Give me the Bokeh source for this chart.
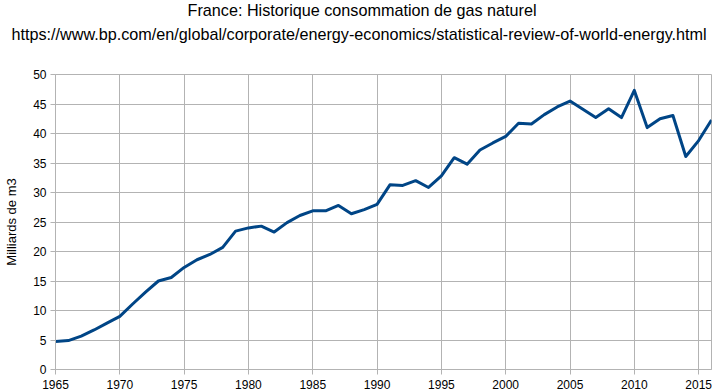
from bokeh.plotting import figure
from bokeh.models import Title, Range1d, FixedTicker
from bokeh.embed import file_html
from bokeh.resources import INLINE

years = list(range(1965, 2017))
consumption = [4.75, 4.9, 5.65, 6.7, 7.85, 9.0, 11.1, 13.1, 15.0, 15.6,
               17.3, 18.6, 19.5, 20.7, 23.45, 24.0, 24.3, 23.3, 24.9, 26.1,
               26.9, 26.9, 27.8, 26.4, 27.1, 28.0, 31.3, 31.2, 32.0, 30.85,
               32.8, 35.9, 34.8, 37.2, 38.4, 39.5, 41.75, 41.6, 43.2, 44.5,
               45.5, 44.1, 42.7, 44.2, 42.7, 47.3, 41.0, 42.5, 43.05, 36.1,
               38.8, 42.3]
x_ticks = list(range(1965, 2016, 5))
y_ticks = list(range(0, 51, 5))

title_main = "France: Historique consommation de gas naturel"
title_url = "https://www.bp.com/en/global/corporate/energy-economics/statistical-review-of-world-energy.html"
y_label = "Milliards de m3"

FONT = "Liberation Sans"
GRID = "#b3b3b3"

p = figure(width=712, height=392, output_backend="svg", toolbar_location=None,
           x_range=Range1d(1965, 2016), y_range=Range1d(0, 50),
           min_border_left=55, min_border_right=1, min_border_top=74,
           min_border_bottom=23)
p.title = None

# spacer panel between plot frame and the two title lines
spacer = Title(text=" ", standoff=22.4, text_font=FONT, text_font_size="1px")
p.add_layout(spacer, "above")
t_url = Title(text=title_url, align="left", offset=-44, standoff=8.2,
              vertical_align="top",
              text_font=FONT, text_font_size="16.2px", text_font_style="normal",
              text_color="black")
p.add_layout(t_url, "above")
t_main = Title(text=title_main, align="left", offset=132, standoff=0,
               vertical_align="top",
               text_font=FONT, text_font_size="16.2px", text_font_style="normal",
               text_color="black")
p.add_layout(t_main, "above")

p.line(years, consumption, line_color="#004586", line_width=3, line_join="round")

p.outline_line_color = GRID
p.background_fill_color = "white"
p.border_fill_color = "white"

p.xaxis.ticker = FixedTicker(ticks=x_ticks)
p.yaxis.ticker = FixedTicker(ticks=y_ticks)
for ax in (p.xaxis, p.yaxis):
    ax.axis_line_color = GRID
    ax.major_tick_line_color = GRID
    ax.minor_tick_line_color = None
    ax.major_tick_in = 0
    ax.major_tick_out = 5
    ax.major_label_text_font = FONT
    ax.major_label_text_font_size = "12px"
    ax.major_label_text_color = "black"
p.xaxis.major_label_standoff = 5
p.yaxis.major_label_standoff = 4
p.yaxis.axis_label = y_label
p.yaxis.axis_label_text_font = FONT
p.yaxis.axis_label_text_font_size = "13px"
p.yaxis.axis_label_text_font_style = "normal"
p.yaxis.axis_label_text_color = "black"
p.yaxis.axis_label_standoff = 11

p.xgrid.grid_line_color = GRID
p.ygrid.grid_line_color = GRID
p.xgrid.grid_line_alpha = 1
p.ygrid.grid_line_alpha = 1

open("out.html", "w").write(file_html(p, INLINE))
